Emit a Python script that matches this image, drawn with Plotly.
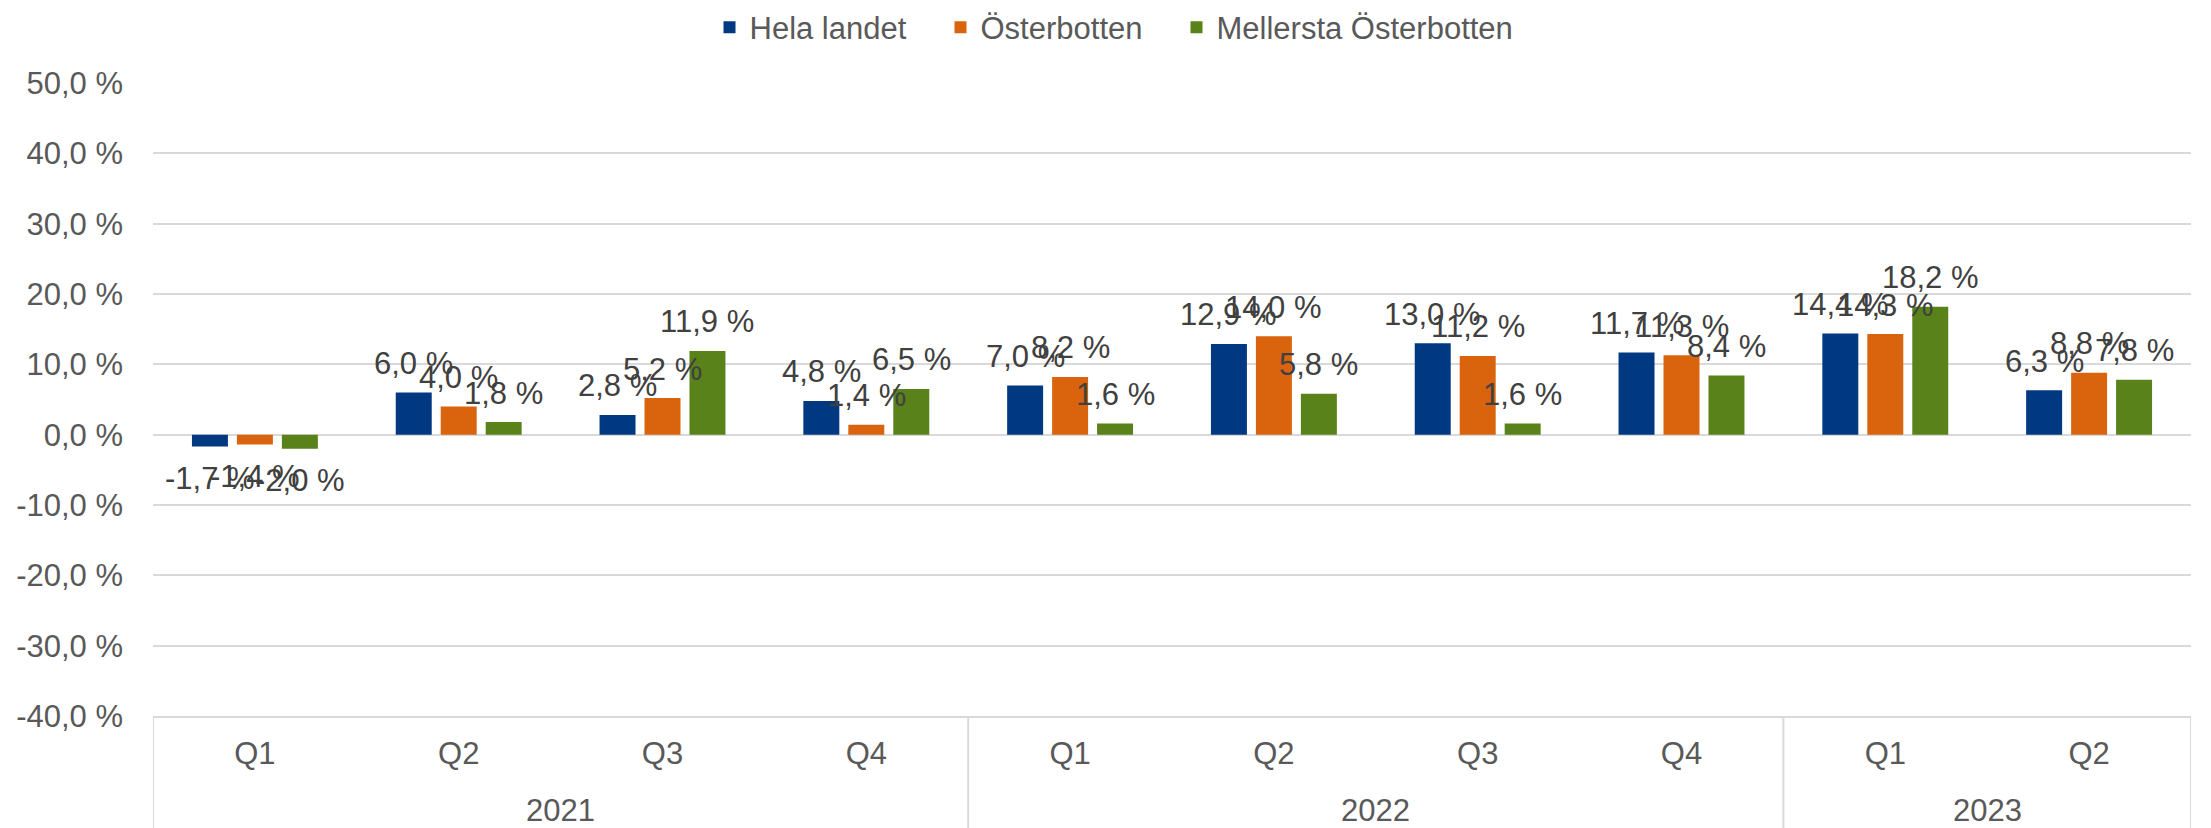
import plotly.graph_objects as go

# ---- data ----
years = ["2021", "2021", "2021", "2021", "2022", "2022", "2022", "2022", "2023", "2023"]
quarters = ["Q1", "Q2", "Q3", "Q4", "Q1", "Q2", "Q3", "Q4", "Q1", "Q2"]
series_names = ["Hela landet", "Österbotten", "Mellersta Österbotten"]
hela_landet = [-1.7, 6.0, 2.8, 4.8, 7.0, 12.9, 13.0, 11.7, 14.4, 6.3]
osterbotten = [-1.4, 4.0, 5.2, 1.4, 8.2, 14.0, 11.2, 11.3, 14.3, 8.8]
mellersta = [-2.0, 1.8, 11.9, 6.5, 1.6, 5.8, 1.6, 8.4, 18.2, 7.8]
y_ticks = [-40, -30, -20, -10, 0, 10, 20, 30, 40, 50]

colors = ["#003882", "#DA640E", "#5A821A"]
FONT = "Liberation Sans, Arial, sans-serif"
FS = 31
BARGAP = 0.338
BARGROUPGAP = 0.2
W, H = 2211, 828
OFF = 8  # page body offset

def fmt(v):
    return f"{v:.1f} %".replace(".", ",")

xpos = list(range(len(quarters)))
all_series = [hela_landet, osterbotten, mellersta]

fig = go.Figure()
legends = ["legend", "legend2", "legend3"]
for i, (name, vals) in enumerate(zip(series_names, all_series)):
    fig.add_trace(go.Bar(
        x=xpos, y=vals, name=name,
        marker=dict(color=colors[i], line=dict(width=0)),
        legend=legends[i], showlegend=True,
    ))

# data labels
slot = (1 - BARGAP) / 3
annotations = []
for i, vals in enumerate(all_series):
    off = (i - 1) * slot
    for xi, v in zip(xpos, vals):
        annotations.append(dict(
            x=xi + off, y=v, xref="x", yref="y", text=fmt(v), showarrow=False,
            font=dict(family=FONT, size=FS, color="#404040"),
            xanchor="center", yanchor="middle",
            yshift=29 if v >= 0 else -32,
        ))

# year labels (group level of category axis)
groups = []
for idx, yr in enumerate(years):
    if not groups or groups[-1][0] != yr:
        groups.append([yr, idx, idx])
    else:
        groups[-1][2] = idx
for yr, a, b in groups:
    annotations.append(dict(
        x=(a + b) / 2, y=0, xref="x", yref="paper", text=yr, showarrow=False,
        font=dict(family=FONT, size=FS, color="#595959"),
        xanchor="center", yanchor="middle", yshift=-94,
    ))

# group dividers
shapes = []
bounds = [groups[0][1] - 0.5] + [g[2] + 0.5 for g in groups]
for bx in bounds:
    shapes.append(dict(type="line", xref="x", yref="paper", x0=bx, x1=bx,
                       y0=0, y1=-0.2, line=dict(color="#D9D9D9", width=2)))

def legend_at(xc):
    return dict(orientation="h", xref="container", yref="container",
                x=(xc - OFF) / W, y=1 - (27.5 - OFF) / H,
                xanchor="left", yanchor="middle",
                font=dict(family=FONT, size=FS, color="#595959"),
                bgcolor="rgba(0,0,0,0)")

fig.update_layout(
    width=W, height=H,
    margin=dict(l=153 - OFF, r=W - 2191 + OFF, t=83 - OFF, b=H - 716 + OFF, autoexpand=False),
    paper_bgcolor="white", plot_bgcolor="white",
    barmode="group", bargap=BARGAP, bargroupgap=BARGROUPGAP,
    font=dict(family=FONT, size=FS, color="#595959"),
    annotations=annotations, shapes=shapes,
    showlegend=True,
    legend=legend_at(709.5),
    legend2=legend_at(940.5),
    legend3=legend_at(1176.5),
)
fig.update_xaxes(
    range=[-0.5, len(quarters) - 0.5], tickmode="array", tickvals=xpos, ticktext=quarters,
    showgrid=False, zeroline=False, showline=True, linecolor="#D9D9D9", linewidth=2,
    ticks="", tickfont=dict(family=FONT, size=FS, color="#595959"), ticklabelstandoff=9,
    fixedrange=True,
)
fig.update_yaxes(
    range=[-40, 50], tickmode="array", tickvals=y_ticks, ticktext=[fmt(v) for v in y_ticks],
    showgrid=True, gridcolor="#D9D9D9", gridwidth=2, zeroline=True, zerolinecolor="#D9D9D9",
    zerolinewidth=2, showline=False, ticks="", ticklabelstandoff=29,
    tickfont=dict(family=FONT, size=FS, color="#595959"), fixedrange=True,
)

fig.write_html("out.html")
